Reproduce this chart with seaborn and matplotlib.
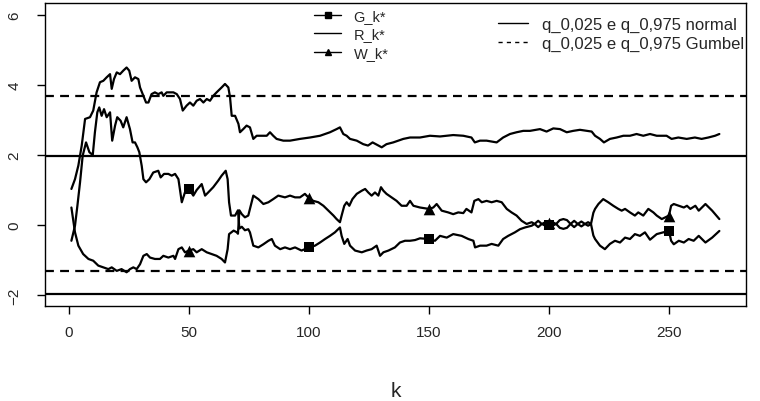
import numpy as np
import pandas as pd
import matplotlib
matplotlib.use("Agg")
import matplotlib.pyplot as plt
from matplotlib.lines import Line2D
import seaborn as sns

# values, (k, statistic) pairs
r_pts = [(1, 1.03), (2.5, 1.31), (3.9, 1.70), (5.3, 2.27), (6.7, 3.03), (8.75, 3.08), (10.1, 3.27),
         (11.5, 3.79), (12.9, 4.08), (14.3, 4.12), (15.7, 4.22), (17.1, 4.31), (17.8, 3.89), (18.75, 4.17),
         (19.9, 4.36), (21.25, 4.31), (22.6, 4.41), (24.0, 4.50), (25.1, 4.41), (26.1, 4.12), (27.5, 4.22),
         (28.9, 4.17), (29.6, 3.93), (31.0, 3.69), (32.1, 3.50), (33.1, 3.50), (34.4, 3.74), (35.8, 3.79),
         (37.2, 3.74), (38.6, 3.79), (39.3, 3.69), (40.7, 3.79), (43.5, 3.79), (44.9, 3.74), (46.25, 3.60),
         (47.4, 3.27), (49.0, 3.41), (50.4, 3.50), (51.8, 3.41), (53.2, 3.55), (54.6, 3.60), (56.0, 3.50),
         (57.4, 3.60), (58.75, 3.55), (60.1, 3.69), (61.5, 3.79), (63.6, 3.93), (65.0, 4.03), (66.4, 3.93),
         (67.1, 3.65), (67.8, 3.12), (69.2, 3.12), (70.6, 2.89), (71.25, 2.65), (72.6, 2.74), (74.0, 2.84),
         (75.4, 2.79), (76.8, 2.46), (78.2, 2.55), (80.3, 2.55), (82.4, 2.55), (83.75, 2.65), (85.1, 2.55),
         (86.5, 2.46), (89.3, 2.41), (92.1, 2.41), (96.25, 2.46), (100.4, 2.50), (104.6, 2.55), (108.75, 2.65),
         (111.5, 2.74), (112.9, 2.79), (114.3, 2.60), (115.7, 2.55), (117.1, 2.46), (119.9, 2.41), (122.6, 2.31),
         (124.6, 2.27), (126.5, 2.36), (128.9, 2.27), (130.3, 2.22), (132.3, 2.31), (135.1, 2.36), (139.3, 2.46),
         (142.1, 2.50), (146.25, 2.50), (150.4, 2.55), (154.6, 2.53), (157.4, 2.55), (160.1, 2.57), (164.3, 2.55),
         (167.7, 2.50), (169.1, 2.36), (171.25, 2.41), (174.0, 2.41), (178.2, 2.36), (180.9, 2.50), (183.75, 2.60),
         (186.5, 2.65), (189.3, 2.69), (192.1, 2.69), (196.25, 2.74), (199.0, 2.67), (201.8, 2.76), (204.6, 2.74),
         (207.4, 2.65), (210.1, 2.69), (212.9, 2.72), (215.7, 2.69), (217.8, 2.67), (219.2, 2.55), (221.25, 2.46),
         (222.9, 2.36), (225.4, 2.46), (228.2, 2.50), (231.0, 2.55), (233.75, 2.55), (236.5, 2.60), (239.3, 2.55),
         (242.1, 2.60), (244.9, 2.55), (249.0, 2.55), (251.1, 2.46), (253.9, 2.50), (257.4, 2.46), (260.8, 2.50),
         (263.6, 2.46), (266.4, 2.50), (269.2, 2.55), (271, 2.60)]

g_pts = [(1, -0.45), (2.5, -0.02), (3.5, 0.55), (4.6, 1.22), (5.7, 1.98), (7.1, 2.36), (8.5, 2.08), (9.9, 2.0),
         (10.8, 2.65), (11.8, 3.22), (12.6, 3.36), (13.6, 3.12), (14.6, 3.31), (15.7, 3.08), (17.1, 3.22),
         (18.0, 2.41), (19.2, 2.84), (20.1, 3.08), (21.5, 2.98), (22.6, 2.79), (24.0, 3.08), (25.4, 2.74),
         (26.5, 2.36), (27.5, 2.36), (28.5, 2.22), (29.3, 2.08), (30.3, 1.69), (31.0, 1.31), (32.1, 1.22),
         (33.5, 1.31), (35.1, 1.50), (37.2, 1.55), (38.2, 1.36), (39.6, 1.46), (41.4, 1.46), (42.8, 1.41),
         (44.2, 1.46), (45.6, 1.31), (47.0, 0.65), (48.3, 0.93), (50, 1.03), (51.8, 0.84), (53.2, 1.0),
         (55.3, 1.17), (56.7, 0.84), (58.0, 0.93), (60.1, 1.08), (62.2, 1.27), (63.6, 1.41), (65.3, 1.55),
         (66.1, 1.31), (66.7, 0.65), (67.5, 0.27), (69.2, 0.27), (70.4, 0.42), (71.0, -0.10), (72.0, -0.05),
         (73.3, -0.15), (74.7, -0.12), (75.4, -0.21), (76.8, -0.59), (78.9, -0.64), (81.0, -0.55), (83.1, -0.45),
         (84.5, -0.40), (85.8, -0.59), (88.0, -0.69), (90.0, -0.64), (92.1, -0.69), (94.2, -0.64), (96.9, -0.73),
         (100, -0.64), (102.5, -0.59), (104.6, -0.50), (106.7, -0.40), (108.75, -0.31), (110.8, -0.21),
         (112.9, -0.07), (113.6, -0.31), (114.7, -0.54), (116.1, -0.40), (117.1, -0.59), (119.2, -0.73),
         (122.0, -0.78), (124.0, -0.73), (126.1, -0.69), (128.2, -0.59), (129.6, -0.88), (131.0, -0.78),
         (133.1, -0.73), (135.8, -0.64), (137.9, -0.50), (140.0, -0.45), (142.1, -0.45), (144.2, -0.43),
         (146.25, -0.38), (150, -0.40), (152.5, -0.45), (154.6, -0.31), (157.4, -0.36), (160.1, -0.26),
         (163.6, -0.31), (166.4, -0.40), (168.5, -0.45), (169.2, -0.64), (171.3, -0.59), (174.0, -0.59),
         (176.1, -0.54), (178.9, -0.59), (180.9, -0.40), (183.0, -0.31), (185.8, -0.21), (187.9, -0.12),
         (190.0, -0.07), (192.8, -0.02), (194.0, 0.03), (195.5, -0.06), (197.0, 0.03), (198.5, -0.02),
         (200, -0.01), (201.5, -0.02), (203.0, 0.03), (204.5, -0.08), (206.0, -0.11), (207.5, -0.08),
         (209.0, 0.03), (210.5, -0.06), (212.0, 0.03), (213.5, -0.04), (215.0, 0.03), (216.3, -0.02),
         (217.5, 0.03), (218.5, -0.30), (219.2, -0.40), (221.25, -0.59), (223.3, -0.69), (225.4, -0.54),
         (227.5, -0.45), (229.6, -0.50), (231.7, -0.36), (233.75, -0.40), (235.8, -0.26), (237.9, -0.31),
         (240.0, -0.21), (242.1, -0.42), (244.9, -0.26), (247.6, -0.21), (250, -0.17), (250.9, -0.45),
         (252.0, -0.55), (254.1, -0.45), (256.2, -0.50), (258.2, -0.40), (260.3, -0.45), (262.4, -0.31),
         (265.2, -0.50), (268.0, -0.36), (271, -0.17)]

w_pts = [(1, 0.50), (2.5, -0.21), (3.9, -0.59), (5.9, -0.83), (8.1, -0.97), (10.1, -1.02), (12.2, -1.16),
         (14.3, -1.21), (16.4, -1.26), (17.8, -1.21), (19.9, -1.31), (21.9, -1.26), (24.0, -1.35), (25.4, -1.26),
         (26.8, -1.21), (28.2, -1.26), (29.6, -1.12), (31.0, -0.88), (32.4, -0.83), (33.75, -0.93), (35.8, -0.97),
         (37.9, -0.97), (39.3, -0.88), (41.4, -0.93), (43.5, -0.88), (44.2, -0.97), (45.6, -0.69), (47.0, -0.64),
         (48.3, -0.78), (50, -0.73), (51.8, -0.69), (53.2, -0.78), (55.3, -0.69), (57.4, -0.78), (59.4, -0.83),
         (61.5, -0.88), (63.6, -0.97), (65.0, -1.07), (66.1, -0.69), (66.7, -0.26), (68.6, -0.16), (70.0, -0.21),
         (70.4, -0.25), (71.0, 0.42), (72.0, 0.31), (73.3, 0.22), (74.7, 0.27), (76.8, 0.84), (78.9, 0.74),
         (81.0, 0.60), (83.1, 0.65), (85.1, 0.74), (87.2, 0.84), (90.0, 0.79), (92.1, 0.84), (94.2, 0.79),
         (96.25, 0.79), (98.3, 0.89), (100, 0.77), (101.8, 0.69), (103.9, 0.65), (106.0, 0.55), (108.1, 0.41),
         (110.2, 0.27), (111.5, 0.17), (112.9, 0.08), (113.6, 0.27), (114.7, 0.55), (115.7, 0.65), (116.8, 0.55),
         (118.1, 0.74), (119.9, 0.89), (122.0, 0.98), (123.4, 1.03), (124.7, 0.93), (126.1, 0.84), (127.5, 0.93),
         (128.9, 0.84), (130.0, 1.08), (131.0, 0.98), (132.3, 0.89), (134.4, 0.79), (136.5, 0.69), (138.6, 0.55),
         (140.7, 0.55), (142.1, 0.69), (143.5, 0.55), (146.25, 0.50), (150, 0.46), (151.8, 0.50), (153.2, 0.60),
         (155.3, 0.41), (158.0, 0.36), (160.1, 0.31), (162.2, 0.36), (164.3, 0.34), (165.6, 0.46), (167.7, 0.36),
         (168.9, 0.69), (170.6, 0.74), (172.0, 0.65), (174.0, 0.69), (176.1, 0.65), (178.2, 0.69), (180.3, 0.65),
         (182.4, 0.46), (184.4, 0.36), (186.5, 0.27), (188.6, 0.12), (190.7, 0.03), (192.8, 0.08), (194.0, 0.03),
         (195.5, 0.12), (197.0, 0.03), (198.5, 0.08), (200, 0.07), (201.5, 0.08), (203.0, 0.03), (204.5, 0.14),
         (206.0, 0.17), (207.5, 0.14), (209.0, 0.03), (210.5, 0.12), (212.0, 0.03), (213.5, 0.10), (215.0, 0.03),
         (216.3, 0.08), (217.5, 0.03), (218.5, 0.35), (219.2, 0.46), (220.6, 0.60), (222.6, 0.74), (224.7, 0.65),
         (226.8, 0.55), (228.9, 0.46), (230.3, 0.41), (231.7, 0.46), (233.75, 0.36), (235.8, 0.27), (237.2, 0.36),
         (239.3, 0.27), (241.4, 0.46), (243.5, 0.36), (244.9, 0.27), (247.0, 0.17), (250, 0.27), (250.9, 0.55),
         (252.0, 0.60), (254.1, 0.55), (256.2, 0.50), (257.5, 0.55), (258.9, 0.46), (261.0, 0.55), (262.4, 0.41),
         (265.2, 0.60), (268.0, 0.41), (271, 0.17)]

marker_k = [50, 100, 150, 200, 250]
q_normal = [-1.96, 1.96]
q_gumbel = [-1.305, 3.676]
x_ticks = [0, 50, 100, 150, 200, 250]
y_ticks = [-2, 0, 2, 4, 6]

# long table for seaborn
df = pd.concat([
    pd.DataFrame(r_pts, columns=['k', 'valor']).assign(serie='R_k*'),
    pd.DataFrame(g_pts, columns=['k', 'valor']).assign(serie='G_k*'),
    pd.DataFrame(w_pts, columns=['k', 'valor']).assign(serie='W_k*'),
], ignore_index=True)

sns.set_theme(style="ticks")
plt.rcParams['font.family'] = ['Liberation Sans', 'DejaVu Sans']

fig = plt.figure(figsize=(7.6, 4.02), dpi=100)
ax = fig.add_axes([45 / 760, 1 - 307 / 402, 701 / 760, 303 / 402])

sns.lineplot(data=df, x='k', y='valor', hue='serie', palette=['black'] * 3,
             estimator=None, sort=False, legend=False, lw=1.6, ax=ax)

# markers every 50 k
pts = df[df['k'].isin(marker_k)]
sns.scatterplot(data=pts[pts['serie'] == 'G_k*'], x='k', y='valor', marker='s',
                color='black', s=55, linewidth=0, ax=ax, legend=False, zorder=5)
sns.scatterplot(data=pts[pts['serie'] == 'W_k*'], x='k', y='valor', marker='^',
                color='black', s=70, linewidth=0, ax=ax, legend=False, zorder=5)

for q in q_normal:
    ax.axhline(q, color='black', lw=1.6)
for q in q_gumbel:
    ax.axhline(q, color='black', lw=1.6, ls=(0, (4.0, 2.8)))

ax.set_xlim(-10.0, 282.1)
ax.set_ylim(-2.314, 6.343)
ax.set_xticks(x_ticks)
ax.set_yticks(y_ticks)
ax.set_xticklabels([str(t) for t in x_ticks], fontsize=11)
ax.set_yticklabels(['\u22122' if t < 0 else str(t) for t in y_ticks], fontsize=11,
                   rotation=90, va='center')
ax.tick_params(direction='out', length=6, width=1, color='black', pad=8)
ax.tick_params(axis='y', pad=11)
for sp in ax.spines.values():
    sp.set_visible(True)
    sp.set_color('black')
    sp.set_linewidth(1)
ax.set_xlabel('k', fontsize=15, labelpad=30)
ax.set_ylabel('')

# legends
h1 = [Line2D([], [], color='black', lw=1, marker='s', markersize=4),
      Line2D([], [], color='black', lw=1),
      Line2D([], [], color='black', lw=1, marker='^', markersize=5)]
leg1 = ax.legend(h1, ['G_k*', 'R_k*', 'W_k*'], loc='upper left', bbox_to_anchor=(0.384, 0.98),
                 frameon=False, fontsize=10.5, handlelength=1.85, handletextpad=0.85,
                 labelspacing=0.3, borderpad=0, borderaxespad=0)
ax.add_artist(leg1)

h2 = [Line2D([], [], color='black', lw=1),
      Line2D([], [], color='black', lw=1, ls=(0, (3, 3)))]
leg2 = ax.legend(h2, ['q_0,025 e q_0,975 normal', 'q_0,025 e q_0,975 Gumbel'], loc='upper left',
                 bbox_to_anchor=(0.646, 0.955), frameon=False, fontsize=12, handlelength=1.8,
                 handletextpad=0.85, labelspacing=0.25, borderpad=0, borderaxespad=0)
for t in leg2.get_texts():
    t.set_clip_box(ax.bbox)
    t.set_clip_on(True)

plt.savefig('out.png', dpi=100)
